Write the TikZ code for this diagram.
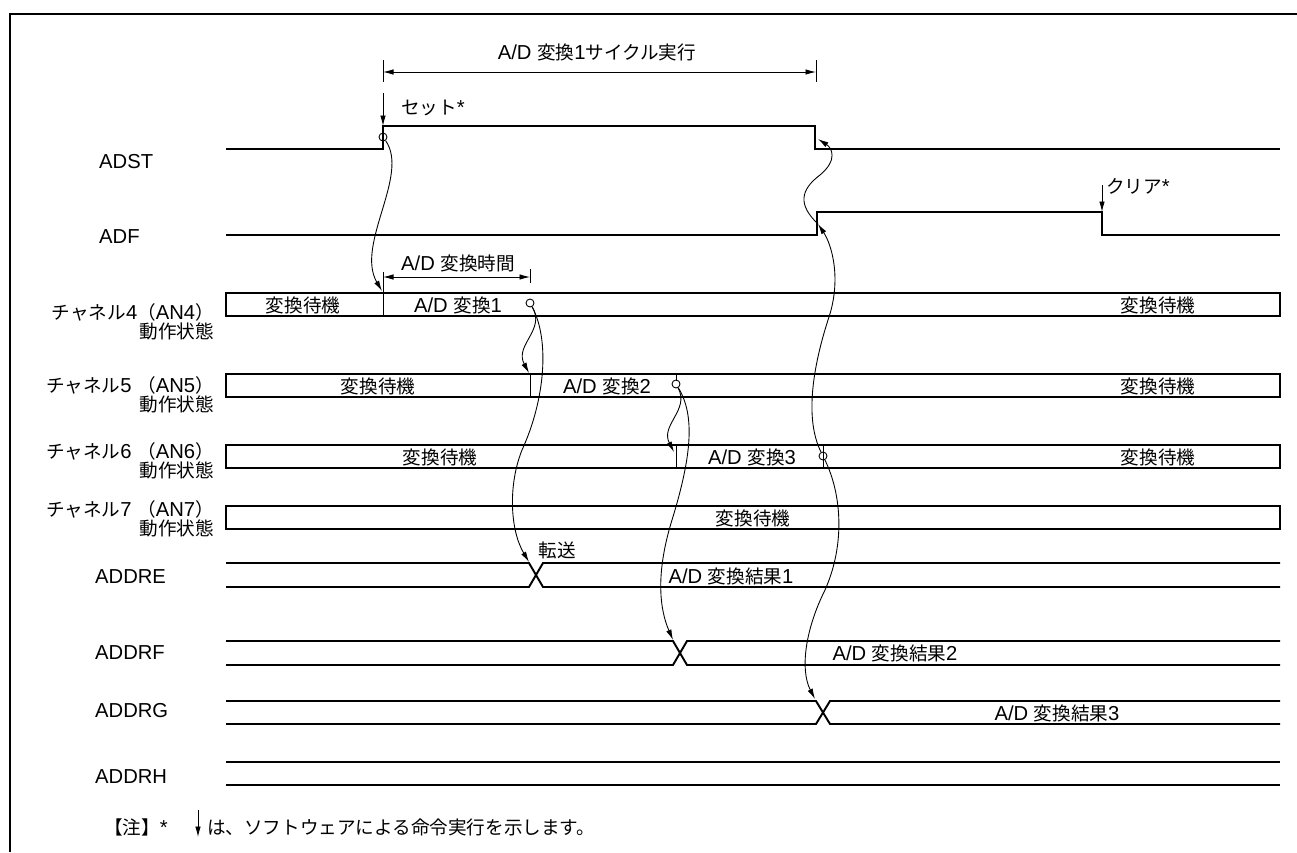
\documentclass[tikz,border=0pt]{standalone}
\usepackage{fontspec}
\setmainfont{Liberation Sans}
\newfontfamily\jpfont[Scale=0.92]{Noto Sans CJK JP}
\newcommand{\jp}[1]{{\jpfont #1}}
\usetikzlibrary{arrows.meta}

\begin{document}
\begin{tikzpicture}[x=0.2mm,y=-0.2mm,font=\fontsize{11.5}{12}\selectfont,
        sig/.style={line width=1.1pt},
        fine/.style={line width=0.5pt},
        arr/.style={line width=0.5pt,-{Latex[length=2.1mm,width=1.1mm]}},
        dim/.style={line width=0.5pt,{Latex[length=2.1mm,width=1.1mm]}-{Latex[length=2.1mm,width=1.1mm]}},
        evt/.style={circle,draw,line width=0.5pt,minimum size=1.6mm,inner sep=0pt},
        chlabel/.style={anchor=east,align=right,font=\fontsize{11.5}{10.5}\selectfont}]
        \useasboundingbox (0,0) rectangle (1297,852);
        \draw[line width=1.6pt] (10,852) -- (10,14) -- (1297,14);

        % one conversion cycle
        \coordinate (cycL) at (383,72);
        \coordinate (cycR) at (816,72);
        \draw[fine] (383,60) -- (383,82);
        \draw[fine] (816,60) -- (816,82);
        \draw[dim] (cycL) -- (cycR);
        \node (cyc) at (597,52) {A/D \jp{変換}1\jp{サイクル実行}};

        \node[anchor=west] (set) at (395,108) {\jp{セット}*};
        \coordinate (setTop) at (383,93);
        \coordinate (setBot) at (383,126);
        \draw[arr] (setTop) -- (setBot);

        \node[anchor=west] (clr) at (1100,186) {\jp{クリア}*};
        \coordinate (clrTop) at (1102,185);
        \coordinate (clrBot) at (1102,212);
        \draw[arr] (clrTop) -- (clrBot);

        % ADST, ADF
        \node[anchor=west] (lADST) at (93,162) {ADST};
        \draw[sig] (226,149) -- (383,149) -- (383,126) -- (815,126) -- (815,149) -- (1280,149);
        \node[anchor=west] (lADF) at (93,237) {ADF};
        \draw[sig] (226,235) -- (817,235) -- (817,212) -- (1102,212) -- (1102,235) -- (1280,235);

        % conversion time
        \coordinate (tL) at (383,277);
        \coordinate (tR) at (530,277);
        \draw[fine] (383,272) -- (383,293);
        \draw[fine] (530,269) -- (530,283);
        \draw[dim] (tL) -- (tR);
        \node (tconv) at (458,263) {A/D \jp{変換時間}};

        % channels
        \node[chlabel] (lch4) at (220,322) {\jp{チャネル}4\jp{（}AN4\jp{）}\\\jp{動作状態}};
        \draw[sig] (226,293) rectangle (1280,316);
        \draw[fine] (383,293) -- (383,316);
        \node (w4a) at (303,305) {\jp{変換待機}};
        \node (cv4) at (458,305) {A/D \jp{変換}1};
        \node (w4b) at (1158,305) {\jp{変換待機}};

        \node[chlabel] (lch5) at (220,395) {\jp{チャネル}5 \jp{（}AN5\jp{）}\\\jp{動作状態}};
        \draw[sig] (226,374) rectangle (1280,397);
        \draw[fine] (530,374) -- (530,397);
        \draw[fine] (676,374) -- (676,381);
        \node (w5a) at (378,386) {\jp{変換待機}};
        \node (cv5) at (607,386) {A/D \jp{変換}2};
        \node (w5b) at (1158,386) {\jp{変換待機}};

        \node[chlabel] (lch6) at (220,461) {\jp{チャネル}6 \jp{（}AN6\jp{）}\\\jp{動作状態}};
        \draw[sig] (226,445) rectangle (1280,468);
        \draw[fine] (676,445) -- (676,468);
        \draw[fine] (823,445) -- (823,468);
        \node (w6a) at (440,457) {\jp{変換待機}};
        \node (cv6) at (752,457) {A/D \jp{変換}3};
        \node (w6b) at (1158,457) {\jp{変換待機}};

        \node[chlabel] (lch7) at (220,519) {\jp{チャネル}7 \jp{（}AN7\jp{）}\\\jp{動作状態}};
        \draw[sig] (226,506) rectangle (1280,529);
        \node (w7) at (753,518) {\jp{変換待機}};

        % data registers
        \node[anchor=west] (lADDRE) at (89,577) {ADDRE};
        \draw[sig] (226,563) -- (529,563) -- (543,587) -- (1280,587);
        \draw[sig] (226,587) -- (529,587) -- (543,563) -- (1280,563);
        \node (xfer) at (557,550) {\jp{転送}};
        \node (res1) at (731,576) {A/D \jp{変換結果}1};

        \node[anchor=west] (lADDRF) at (89,653) {ADDRF};
        \draw[sig] (226,641) -- (673,641) -- (687,665) -- (1280,665);
        \draw[sig] (226,665) -- (673,665) -- (687,641) -- (1280,641);
        \node (res2) at (895,653) {A/D \jp{変換結果}2};

        \node[anchor=west] (lADDRG) at (89,711) {ADDRG};
        \draw[sig] (226,701) -- (816,701) -- (830,724) -- (1280,724);
        \draw[sig] (226,724) -- (816,724) -- (830,701) -- (1280,701);
        \node (res3) at (1057,713) {A/D \jp{変換結果}3};

        \node[anchor=west] (lADDRH) at (89,777) {ADDRH};
        \draw[sig] (226,762) -- (1280,762);
        \draw[sig] (226,785) -- (1280,785);

        % events
        \node[evt] (stC) at (383,137) {};
        \node[evt] (c4) at (530,303) {};
        \node[evt] (c5) at (676,384) {};
        \node[evt] (c6) at (823,456) {};
        \coordinate (c4start) at (382,291);
        \coordinate (c5start) at (529,373);
        \coordinate (c6start) at (674,452);
        \coordinate (eEtop) at (529,562);
        \coordinate (eFtop) at (673,640);
        \coordinate (eGtop) at (815,699);
        \coordinate (adfUp) at (818,224);
        \coordinate (stDown) at (818,139);

        \draw[arr] (stC) .. controls (410,175) and (355,245) .. (c4start);
        \draw[arr] (c4) .. controls (546,330) and (514,345) .. (c5start);
        \draw[arr] (c4) .. controls (550,340) and (545,400) .. (522,450) .. controls (508,485) and (510,530) .. (eEtop);
        \draw[arr] (c5) .. controls (690,410) and (660,425) .. (c6start);
        \draw[arr] (c5) .. controls (695,415) and (692,455) .. (672,520) .. controls (655,575) and (660,610) .. (eFtop);
        \draw[arr] (c6) .. controls (842,495) and (845,545) .. (825,590) .. controls (805,630) and (800,670) .. (eGtop);
        \draw[arr] (c6) .. controls (805,420) and (812,370) .. (828,320) .. controls (842,280) and (832,245) .. (adfUp);
        \draw[arr] (adfUp) .. controls (798,205) and (800,190) .. (820,175) .. controls (838,160) and (832,148) .. (stDown);

        % note
        \node[anchor=west] (note) at (98,827) {\jp{【注】}*};
        \coordinate (noteTop) at (198,810);
        \coordinate (noteBot) at (198,837);
        \draw[arr] (noteTop) -- (noteBot);
        \node[anchor=west] (notetxt) at (201,827) {\jp{は、ソフトウェアによる命令実行を示します。}};
    \end{tikzpicture}
\end{document}
